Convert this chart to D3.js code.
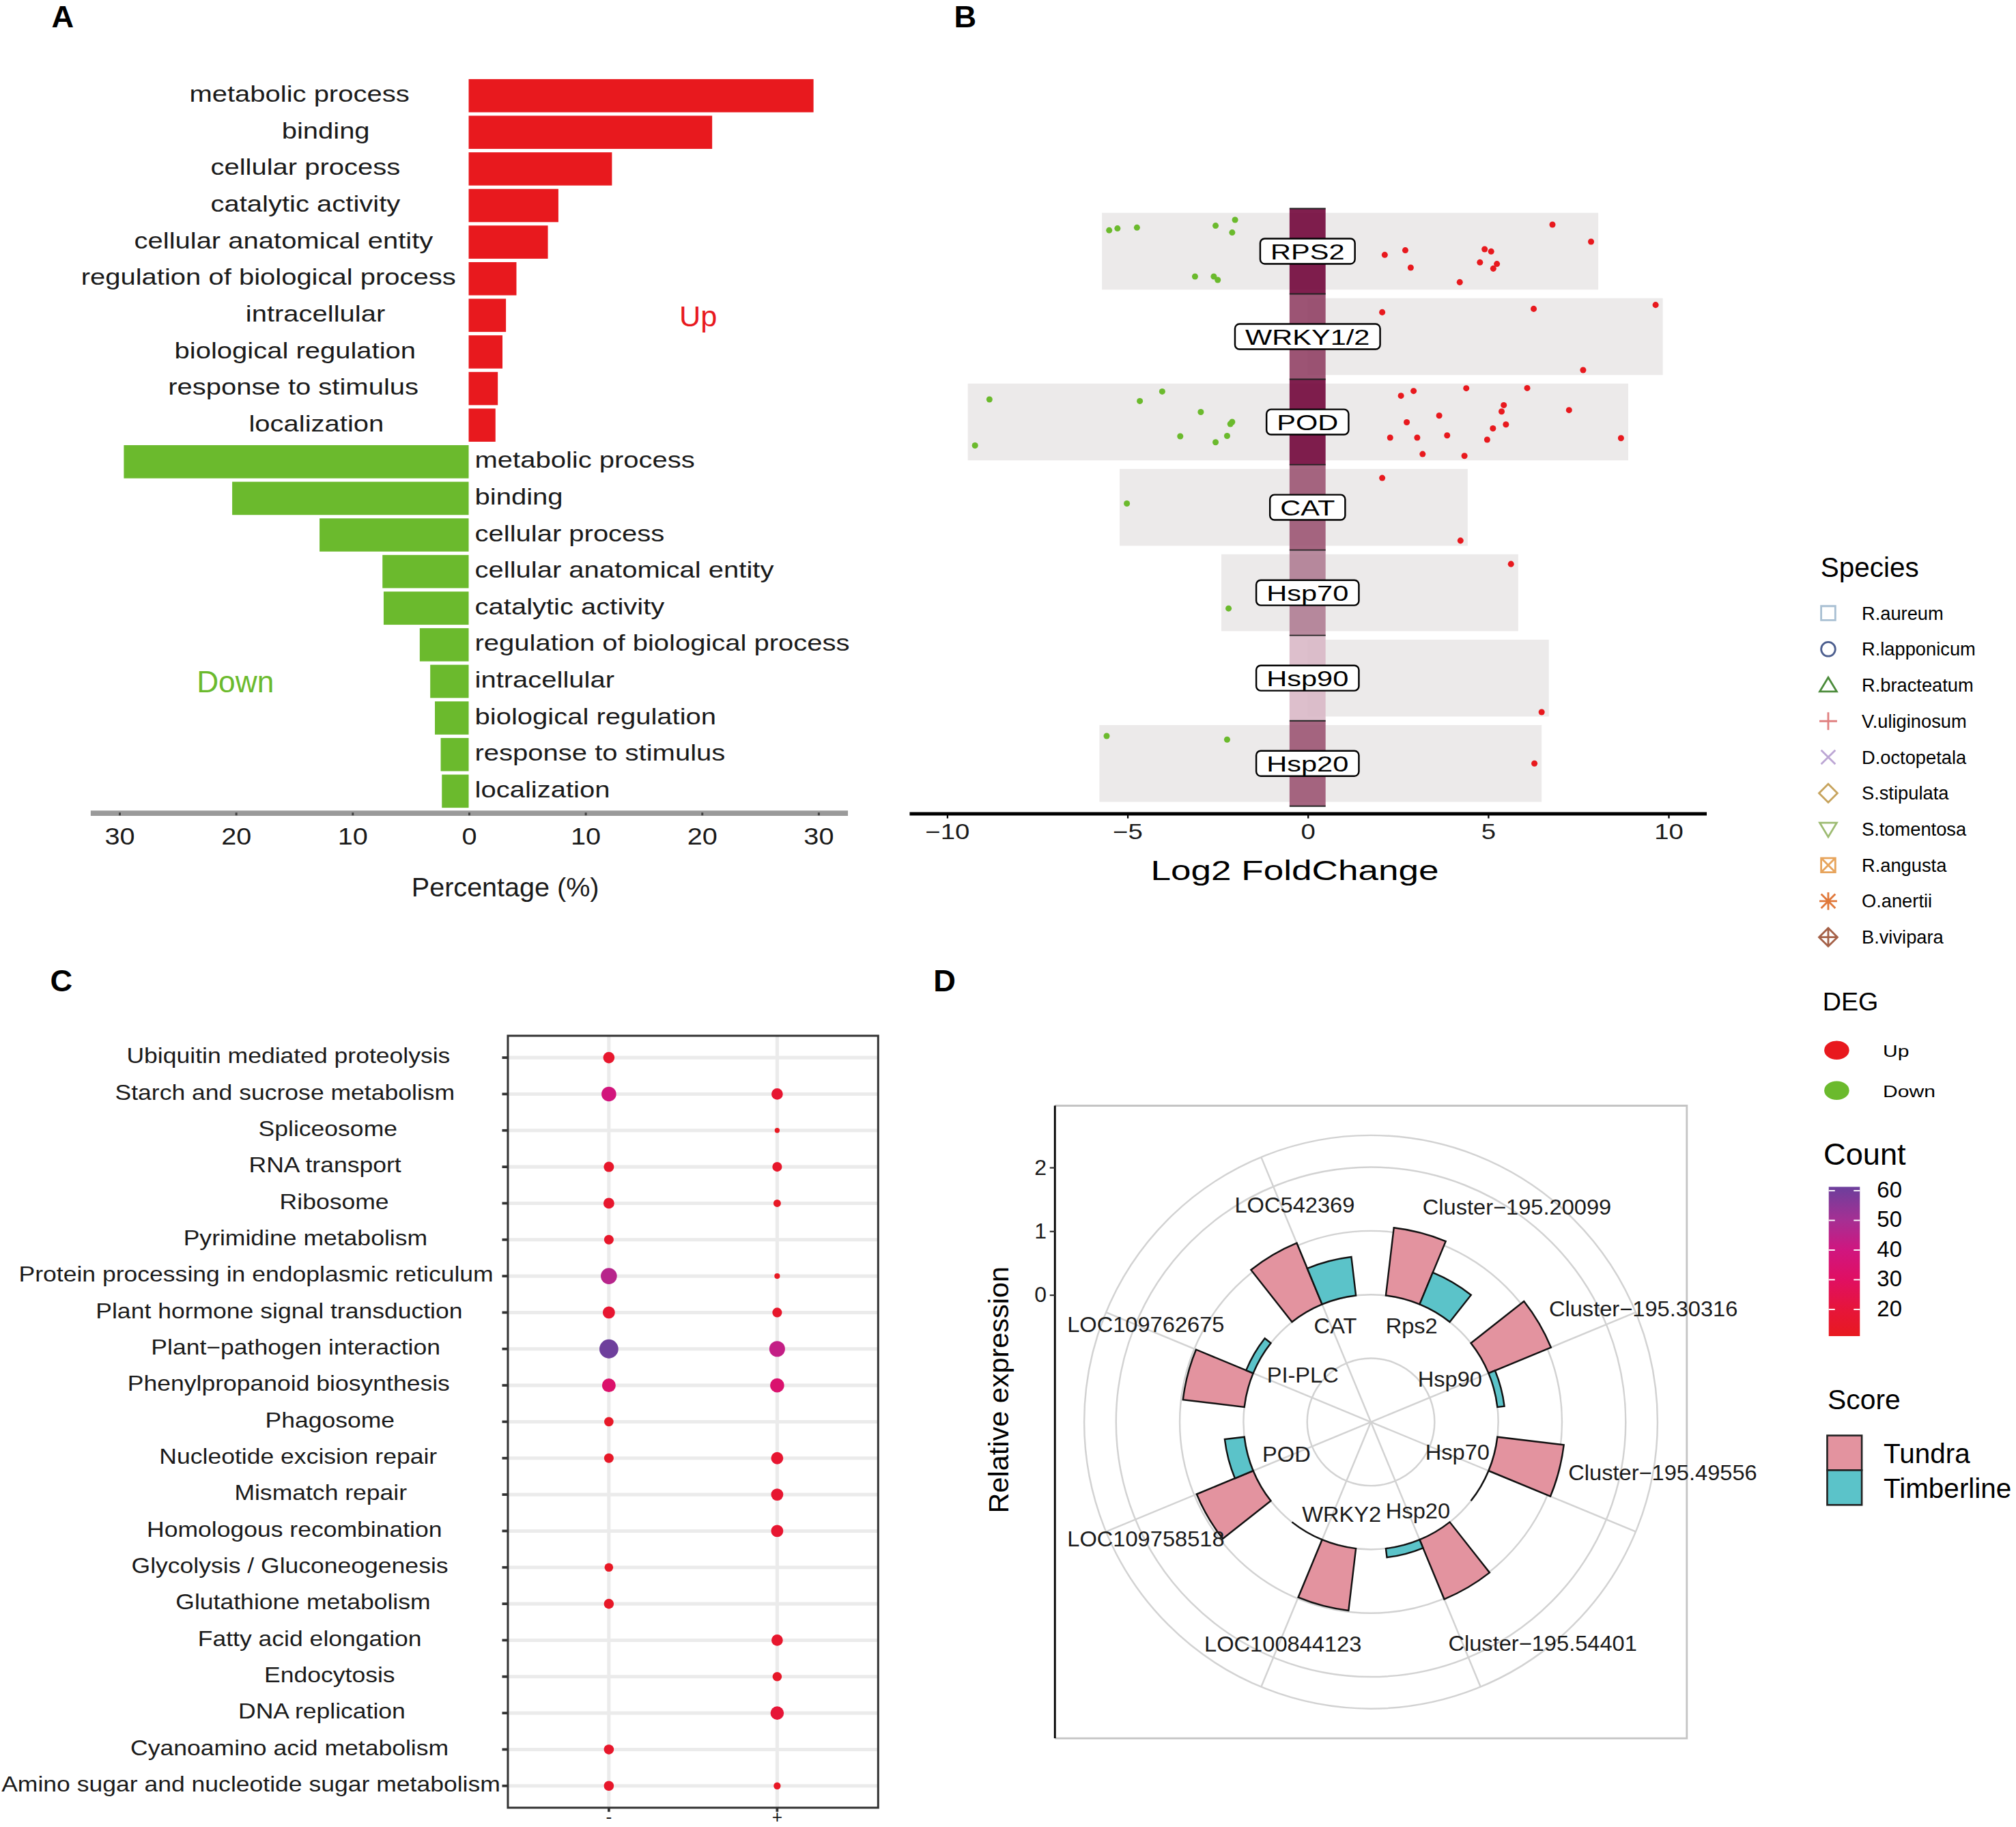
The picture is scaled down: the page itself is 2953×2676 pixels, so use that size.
<!DOCTYPE html>
<html>
<head>
<meta charset="utf-8">
<script src="https://cdn.jsdelivr.net/npm/d3@7"></script>
<style>
  body { margin: 0; background: #fff; }
  svg text { font-family: "Liberation Sans", Arial, Helvetica, sans-serif; }
</style>
</head>
<body>
<div id="fig"></div>
<script>
// ---------------- data ----------------
// A: GO enrichment, percentage of DEGs
const goUpTerms = ["metabolic process", "binding", "cellular process", "catalytic activity",
  "cellular anatomical entity", "regulation of biological process", "intracellular",
  "biological regulation", "response to stimulus", "localization"];
const goUpPct = [29.6, 20.9, 12.3, 7.7, 6.8, 4.1, 3.2, 2.9, 2.5, 2.3];
const goDownTerms = ["metabolic process", "binding", "cellular process", "cellular anatomical entity",
  "catalytic activity", "regulation of biological process", "intracellular",
  "biological regulation", "response to stimulus", "localization"];
const goDownPct = [29.6, 20.3, 12.8, 7.4, 7.3, 4.2, 3.3, 2.9, 2.4, 2.3];
const pctTicks = [-30, -20, -10, 0, 10, 20, 30];

// B: log2 fold change of DEGs per gene, [lfc, jitter within row]
const genesB = ["RPS2", "WRKY1/2", "POD", "CAT", "Hsp70", "Hsp90", "Hsp20"];
const degRPS2 = [[-5.50, -0.245], [-5.27, -0.267], [-4.73, -0.277], [-2.55, -0.299], [-2.01, -0.368],
  [-2.09, -0.219], [-3.12, 0.296], [-2.60, 0.296], [-2.49, 0.336],
  [6.79, -0.312], [7.86, -0.112], [2.14, 0.043], [2.71, -0.011], [4.91, -0.024], [5.09, 0.003],
  [4.78, 0.131], [5.25, 0.149], [5.15, 0.203], [2.86, 0.192], [4.22, 0.363]];
const degWRKY = [[2.07, -0.285], [6.27, -0.325], [9.65, -0.371], [7.64, 0.392]];
const degPOD = [[-8.82, -0.264], [-4.03, -0.357], [-4.65, -0.245], [-2.96, -0.117], [-2.09, 0.0],
  [-2.14, 0.024], [-3.53, 0.168], [-2.23, 0.163], [-2.55, 0.237], [-9.22, 0.275],
  [2.59, -0.307], [2.94, -0.363], [4.40, -0.395], [6.09, -0.397], [5.44, -0.197], [5.38, -0.123],
  [7.25, -0.139], [3.65, -0.075], [2.75, 0.003], [5.14, 0.075], [5.50, 0.029], [2.29, 0.184],
  [3.04, 0.184], [3.87, 0.157], [4.98, 0.208], [8.69, 0.189], [3.19, 0.376], [4.35, 0.397]];
const degCAT = [[-5.01, -0.045], [2.07, -0.344], [4.24, 0.39]];
const degHsp70 = [[5.64, -0.336], [-2.19, 0.184]];
const degHsp90 = [[6.49, 0.398]];
const degHsp20 = [[-5.57, -0.322], [-2.23, -0.28], [6.29, 0.0]];
const degByGene = [degRPS2, degWRKY, degPOD, degCAT, degHsp70, degHsp90, degHsp20];
const lfcTicks = [-10, -5, 0, 5, 10];

const speciesNames = ["R.aureum", "R.lapponicum", "R.bracteatum", "V.uliginosum", "D.octopetala",
  "S.stipulata", "S.tomentosa", "R.angusta", "O.anertii", "B.vivipara"];
const degLevels = ["Up", "Down"];

// C: KEGG pathways, count (colour) and DEG number (size) for - / +
const pathways = ["Ubiquitin mediated proteolysis", "Starch and sucrose metabolism", "Spliceosome",
  "RNA transport", "Ribosome", "Pyrimidine metabolism", "Protein processing in endoplasmic reticulum",
  "Plant hormone signal transduction", "Plant\u2212pathogen interaction", "Phenylpropanoid biosynthesis",
  "Phagosome", "Nucleotide excision repair", "Mismatch repair", "Homologous recombination",
  "Glycolysis / Gluconeogenesis", "Glutathione metabolism", "Fatty acid elongation", "Endocytosis",
  "DNA replication", "Cyanoamino acid metabolism", "Amino sugar and nucleotide sugar metabolism"];
const keggGroups = ["-", "+"];
const countMinus = [16, 39, null, 15, 16, 15, 46, 17, 61, 33, 14, 14, null, null, 13, 14, null, null, null, 15, 15];
const countPlus = [null, 17, 12, 15, 13, null, 12, 15, 43, 34, null, 17, 17, 17, null, null, 16, 14, 19, null, 13];
const genesMinus = [21, 35, null, 17, 19, 15, 42, 24, 58, 30, 14, 15, null, null, 12, 16, null, null, null, 16, 16];
const genesPlus = [null, 21, 4, 15, 9, null, 5, 15, 40, 32, null, 24, 24, 24, null, null, 21, 14, 29, null, 8];
const countTicks = [20, 30, 40, 50, 60];

// D: relative expression, polar bars
const genesD = ["Rps2", "Hsp90", "Hsp70", "Hsp20", "WRKY2", "POD", "PI-PLC", "CAT"];
const idsD = ["Cluster\u2212195.20099", "Cluster\u2212195.30316", "Cluster\u2212195.49556", "Cluster\u2212195.54401",
  "LOC100844123", "LOC109758518", "LOC109762675", "LOC542369"];
const tundraExpr = [1.07, 1.06, 1.05, 1.01, 0.98, 0.96, 0.97, 1.04];
const timberlineExpr = [0.54, 0.11, 0.0, 0.14, 0.0, 0.31, 0.12, 0.61];
const geneLabelNudge = [0.01, -0.13, -0.07, -0.12, -0.11, 0.03, 0.27, 0.05];
const geneLabelY = [-0.36, -0.59, -0.56, -0.42, -0.48, -0.58, -0.70, -0.39];
const idLabelNudge = [0.26, 0.0, -0.28, -0.34, -0.02, -0.11, 0.02, 0.07];
const idLabelY = [2.08, 2.63, 2.65, 2.40, 1.75, 1.98, 1.85, 1.61];
const scoreLevels = ["Tundra", "Timberline"];
const exprTicks = [0, 1, 2];

// ---------------- setup ----------------
const W = 1568, H = 1421;
const RED = "#E8191E", GREEN = "#6BBA2D", INK = "#1a1a1a";
const svg = d3.select("#fig").append("svg")
  .attr("width", 2953).attr("height", 2676)
  .attr("viewBox", `0 0 ${W} ${H}`);

// text with optional horizontal stretch; hjust 0 = left, 0.5 = centre, 1 = right
function label(g, str, x, y, o) {
  o = o || {};
  const sx = o.sx || 1, hj = o.hjust == null ? 0.5 : o.hjust;
  const t = g.append("text").text(str)
    .attr("font-size", o.size || 16)
    .attr("font-weight", o.weight || null)
    .attr("fill", o.fill || INK)
    .attr("dy", o.dy == null ? "0.35em" : o.dy);
  const w = t.node().getComputedTextLength() * sx;
  t.attr("transform", `translate(${x - hj * w},${y}) scale(${sx},1)`);
  return w;
}

// panel letters
[["A", 40, 21.5], ["B", 742, 21.5], ["C", 39, 771], ["D", 726, 771]].forEach(d =>
  label(svg, d[0], d[1], d[2], {size: 24, weight: "bold", hjust: 0, dy: 0, fill: "#000"}));

// ---------------- A ----------------
const gA = svg.append("g");
const xA = d3.scaleLinear().domain([-32.5, 32.5]).range([70, 659]);
const rowsA = goUpTerms.map((t, i) => "u" + i).concat(goDownTerms.map((t, i) => "d" + i));
const yA = d3.scaleBand().domain(rowsA).range([60.2, 629.6]).paddingInner(0.094).paddingOuter(0.047);

gA.selectAll("rect.up").data(goUpPct).join("rect")
  .attr("x", xA(0)).attr("y", (d, i) => yA("u" + i))
  .attr("width", d => xA(d) - xA(0)).attr("height", yA.bandwidth())
  .attr("fill", RED);
gA.selectAll("rect.down").data(goDownPct).join("rect")
  .attr("x", d => xA(-d)).attr("y", (d, i) => yA("d" + i))
  .attr("width", d => xA(0) - xA(-d)).attr("height", yA.bandwidth())
  .attr("fill", GREEN);

goUpTerms.forEach((t, i) => label(gA, t, 267, yA("u" + i) + yA.bandwidth() / 2 - 1.5, {size: 18, sx: 1.18, hjust: 0.70}));
goDownTerms.forEach((t, i) => label(gA, t, xA(0) + 4.8, yA("d" + i) + yA.bandwidth() / 2 - 1.5, {size: 18, sx: 1.18, hjust: 0}));

label(gA, "Up", 543, 246, {size: 23, fill: RED});
label(gA, "Down", 183, 530, {size: 23.5, fill: GREEN});

const axA = gA.append("g").attr("transform", "translate(0,632)")
  .call(d3.axisBottom(xA).tickValues(pctTicks).tickFormat(d => Math.abs(d)).tickSize(2.2).tickSizeOuter(0).tickPadding(9.5));
axA.select(".domain").attr("stroke", "#9a9a9a").attr("stroke-width", 4.2);
axA.selectAll(".tick line").attr("stroke", "#444").attr("stroke-width", 1.6);
axA.selectAll(".tick text").attr("font-size", 18.3).attr("fill", INK).attr("font-family", null)
  .attr("transform", "scale(1.15,1)");
label(gA, "Percentage (%)", 393, 690, {size: 21});

// ---------------- B ----------------
const gB = svg.append("g");
const xB = d3.scaleLinear().domain([-11.05, 11.05]).range([707, 1327]);
const yB = d3.scaleBand().domain(genesB).range([162.2, 627]);
const bwB = yB.bandwidth();
const nDeg = degByGene.map(a => a.length);
const heat = d3.scaleLinear().domain([1, 2, 3, 4, 8])
  .range(["#D9B8C6", "#B07D94", "#9C5573", "#914165", "#72073B"]).clamp(true);

// grey background band per gene, spanning its DEGs
genesB.forEach((g, i) => {
  const ext = d3.extent(degByGene[i], d => d[0]);
  const lo = ext[0] < 0 ? ext[0] - 0.2 : 0;
  const hi = ext[1] > 0 ? ext[1] + 0.2 : 0;
  gB.append("rect").attr("x", xB(lo)).attr("width", xB(hi) - xB(lo))
    .attr("y", yB(g) + bwB * 0.05).attr("height", bwB * 0.9).attr("fill", "#ECEAEA");
});
// central heat column
gB.selectAll("rect.heat").data(genesB).join("rect")
  .attr("x", xB(-0.5)).attr("width", xB(0.5) - xB(-0.5))
  .attr("y", d => yB(d)).attr("height", bwB)
  .attr("fill", (d, i) => heat(nDeg[i])).attr("fill-opacity", 0.9);
genesB.concat([null]).forEach((g, i) => {
  const y = g ? yB(g) : yB.range()[1];
  gB.append("line").attr("x1", xB(-0.5)).attr("x2", xB(0.5)).attr("y1", y).attr("y2", y)
    .attr("stroke", "#222").attr("stroke-width", 1);
});
// DEG points
genesB.forEach((g, i) => {
  gB.selectAll(null).data(degByGene[i]).join("circle")
    .attr("cx", d => xB(d[0])).attr("cy", d => yB(g) + bwB / 2 + d[1] * bwB)
    .attr("r", 2.4).attr("fill", d => d[0] > 0 ? RED : GREEN);
});
// gene labels
genesB.forEach(g => {
  const lg = gB.append("g");
  const cy = yB(g) + bwB / 2;
  const box = lg.append("rect");
  const w = label(lg, g, xB(0), cy + 0.5, {size: 16.6, sx: 1.33, fill: "#000"});
  box.attr("x", xB(0) - w / 2 - 8).attr("y", cy - 9.8).attr("width", w + 16).attr("height", 19.6)
    .attr("rx", 3.5).attr("fill", "#fff").attr("stroke", "#000").attr("stroke-width", 1.3);
});
const axB = gB.append("g").attr("transform", "translate(0,632.5)")
  .call(d3.axisBottom(xB).tickValues(lfcTicks).tickSize(4).tickSizeOuter(0).tickPadding(4.5));
axB.select(".domain").attr("stroke", "#000").attr("stroke-width", 2.6);
axB.selectAll(".tick line").attr("stroke", "#000").attr("stroke-width", 1.2);
axB.selectAll(".tick text").attr("font-size", 16.3).attr("fill", INK).attr("font-family", null)
  .attr("transform", "scale(1.25,1)");
label(gB, "Log2 FoldChange", 1007, 677, {size: 21.2, sx: 1.33, fill: "#000"});

// ---------------- legends ----------------
const gL = svg.append("g");
label(gL, "Species", 1416, 448.8, {size: 21.5, hjust: 0, dy: 0, fill: "#000"});
const speciesColors = ["#A9C0D3", "#4D5F8F", "#4B8B3B", "#E08080", "#BCA6D4",
  "#C7A45E", "#9DBB72", "#E7A45C", "#E0783A", "#A56148"];
const h = 5.5;
const sq = `M${-h},${-h}H${h}V${h}H${-h}Z`;
const cr = `M${-h},${-h}L${h},${h}M${-h},${h}L${h},${-h}`;
const pl = `M${-h * 1.25},0H${h * 1.25}M0,${-h * 1.25}V${h * 1.25}`;
const dm = `M0,${-h * 1.3}L${h * 1.3},0L0,${h * 1.3}L${-h * 1.3},0Z`;
const shapePaths = [sq, null,
  `M0,${-h * 1.1}L${h * 1.2},${h * 0.9}L${-h * 1.2},${h * 0.9}Z`, pl, cr, dm,
  `M0,${h * 1.1}L${h * 1.2},${-h * 0.9}L${-h * 1.2},${-h * 0.9}Z`, sq + cr, pl + cr,
  dm + `M${-h * 1.3},0H${h * 1.3}M0,${-h * 1.3}V${h * 1.3}`];
const ySp = d3.scalePoint().domain(speciesNames).range([476.9, 728.9]);
speciesNames.forEach((s, i) => {
  const y = ySp(s);
  const sg = gL.append("g").attr("transform", `translate(1422,${y})`);
  if (shapePaths[i]) sg.append("path").attr("d", shapePaths[i]);
  else sg.append("circle").attr("r", h);
  sg.selectAll("*").attr("fill", "none").attr("stroke", speciesColors[i]).attr("stroke-width", 1.5);
  label(gL, s, 1448, y, {size: 14.5, hjust: 0, fill: "#000"});
});

label(gL, "DEG", 1417.6, 786, {size: 20, hjust: 0, dy: 0, fill: "#000"});
const yDeg = d3.scalePoint().domain(degLevels).range([816.8, 848.2]);
degLevels.forEach((d, i) => {
  gL.append("ellipse").attr("cx", 1428.6).attr("cy", yDeg(d)).attr("rx", 9.7).attr("ry", 7.3)
    .attr("fill", i === 0 ? RED : GREEN);
  label(gL, d, 1464.5, yDeg(d) + 1, {size: 12.3, sx: 1.3, hjust: 0, fill: "#000"});
});

// count colour bar
const countColor = d3.scaleLinear().domain([11, 20, 30, 40, 50, 61.3])
  .range(["#E8191F", "#E6153A", "#E00F62", "#D0167F", "#A62F93", "#6C3F9C"]).clamp(true);
label(gL, "Count", 1418.3, 906, {size: 24, hjust: 0, dy: 0, fill: "#000"});
const cbY = d3.scaleLinear().domain([11, 61.3]).range([1039.2, 923.1]);
const grad = svg.append("defs").append("linearGradient").attr("id", "cgrad")
  .attr("x1", 0).attr("y1", 1).attr("x2", 0).attr("y2", 0);
countColor.domain().forEach(v => grad.append("stop")
  .attr("offset", (v - 11) / (61.3 - 11)).attr("stop-color", countColor(v)));
gL.append("rect").attr("x", 1422.4).attr("y", cbY(61.3)).attr("width", 24.2)
  .attr("height", cbY(11) - cbY(61.3)).attr("fill", "url(#cgrad)");
countTicks.forEach(v => {
  [[1422.4, 1427.2], [1441.8, 1446.6]].forEach(xx => gL.append("line")
    .attr("x1", xx[0]).attr("x2", xx[1]).attr("y1", cbY(v)).attr("y2", cbY(v))
    .attr("stroke", "#fff").attr("stroke-width", 1));
  label(gL, v, 1459.9, cbY(v) - 1, {size: 17.5, hjust: 0, fill: "#000"});
});

label(gL, "Score", 1421.5, 1096, {size: 21.7, hjust: 0, dy: 0, fill: "#000"});
const scoreColors = ["#E3939F", "#5BC3C9"];
scoreLevels.forEach((s, i) => {
  gL.append("rect").attr("x", 1421.2).attr("y", 1116.5 + i * 27).attr("width", 26.9).attr("height", 27)
    .attr("fill", scoreColors[i]).attr("stroke", "#222").attr("stroke-width", 1.4);
  label(gL, s, 1465, 1138 + i * 27, {size: 21.5, hjust: 0, dy: 0, fill: "#000"});
});

// ---------------- C ----------------
const gC = svg.append("g");
const boxC = {x0: 395, x1: 683, y0: 805.6, y1: 1406};
const xC = d3.scalePoint().domain(keggGroups).range([boxC.x0, boxC.x1]).padding(0.6);
const yC = d3.scalePoint().domain(pathways).range([boxC.y0, boxC.y1]).padding(0.6);
const rC = d3.scaleSqrt().domain([0, 60]).range([0, 7.5]);

pathways.forEach(p => gC.append("line").attr("x1", boxC.x0).attr("x2", boxC.x1)
  .attr("y1", yC(p)).attr("y2", yC(p)).attr("stroke", "#EBEBEB").attr("stroke-width", 2.7));
keggGroups.forEach(k => gC.append("line").attr("x1", xC(k)).attr("x2", xC(k))
  .attr("y1", boxC.y0).attr("y2", boxC.y1).attr("stroke", "#EBEBEB").attr("stroke-width", 2.7));

const dotsC = [];
pathways.forEach((p, i) => {
  if (countMinus[i] != null) dotsC.push({p, k: "-", c: countMinus[i], n: genesMinus[i]});
  if (countPlus[i] != null) dotsC.push({p, k: "+", c: countPlus[i], n: genesPlus[i]});
});
gC.selectAll("circle").data(dotsC).join("circle")
  .attr("cx", d => xC(d.k)).attr("cy", d => yC(d.p))
  .attr("r", d => rC(d.n)).attr("fill", d => countColor(d.c));

gC.append("rect").attr("x", boxC.x0).attr("y", boxC.y0)
  .attr("width", boxC.x1 - boxC.x0).attr("height", boxC.y1 - boxC.y0)
  .attr("fill", "none").attr("stroke", "#333").attr("stroke-width", 1.6);
pathways.forEach(p => {
  gC.append("line").attr("x1", boxC.x0 - 4.5).attr("x2", boxC.x0).attr("y1", yC(p)).attr("y2", yC(p))
    .attr("stroke", "#333").attr("stroke-width", 2);
  label(gC, p, 278.1, yC(p) - 1.5, {size: 16.7, sx: 1.13, hjust: 0.714});
});
keggGroups.forEach(k => {
  gC.append("line").attr("x1", xC(k)).attr("x2", xC(k)).attr("y1", boxC.y1).attr("y2", boxC.y1 + 3.2)
    .attr("stroke", "#333").attr("stroke-width", 2);
  label(gC, k, xC(k), 1417.6, {size: 14, dy: 0});
});

// ---------------- D ----------------
const boxD = {x0: 820.5, x1: 1312, y0: 860, y1: 1352};
const cxD = (boxD.x0 + boxD.x1) / 2, cyD = (boxD.y0 + boxD.y1) / 2;
const gDbg = svg.append("g");
gDbg.append("path")
  .attr("d", `M${boxD.x0},${boxD.y0}H${boxD.x1}V${boxD.y1}H${boxD.x0}`)
  .attr("fill", "none").attr("stroke", "#C4C4C4").attr("stroke-width", 1.5);
gDbg.append("line").attr("x1", boxD.x0).attr("x2", boxD.x0).attr("y1", boxD.y0).attr("y2", boxD.y1)
  .attr("stroke", "#000").attr("stroke-width", 1.5);

const thetaD = d3.scaleBand().domain(genesD).range([0, 2 * Math.PI]);
const bwD = thetaD.bandwidth();
const rD = d3.scaleLinear().domain([-2, 2]).range([0, 198.2]);
const outerR = rD.range()[1] * 0.45 / 0.4;
const gD = svg.append("g").attr("transform", `translate(${cxD},${cyD})`);
const gridCol = "#D2D2D2";
[-1, 0, 1, 2].forEach(v => gD.append("circle").attr("r", rD(v))
  .attr("fill", "none").attr("stroke", gridCol).attr("stroke-width", 1.3));
gD.append("circle").attr("r", outerR).attr("fill", "none").attr("stroke", gridCol).attr("stroke-width", 1.3);
const polar = (a, r) => [r * Math.sin(a), -r * Math.cos(a)];
// angular grid: the reference shows no spoke for the first category
genesD.slice(1).forEach(g => {
  const a = thetaD(g) + bwD / 2;
  const p = polar(a, outerR);
  gD.append("line").attr("x1", 0).attr("y1", 0).attr("x2", p[0]).attr("y2", p[1])
    .attr("stroke", gridCol).attr("stroke-width", 1.3);
});

const arc = d3.arc();
genesD.forEach((g, i) => {
  const c = thetaD(g) + bwD / 2;
  [[tundraExpr[i], c - 0.35 * bwD, c, scoreColors[0]],
   [timberlineExpr[i], c, c + 0.35 * bwD, scoreColors[1]]].forEach(b => {
    gD.append("path")
      .attr("d", arc({innerRadius: rD(0), outerRadius: rD(b[0]), startAngle: b[1], endAngle: b[2]}))
      .attr("fill", b[3]).attr("stroke", "#111").attr("stroke-width", 1.3)
      .attr("stroke-linejoin", "miter");
  });
});
genesD.forEach((g, i) => {
  const p = polar(thetaD(g) + (0.5 + geneLabelNudge[i]) * bwD, rD(geneLabelY[i]));
  label(gD, g, p[0], p[1], {size: 16.5, sx: 1.05});
  const q = polar(thetaD(g) + (0.5 + idLabelNudge[i]) * bwD, rD(idLabelY[i]));
  label(gD, idsD[i], q[0], q[1], {size: 16.5, sx: 1.05});
});

const yDax = d3.scaleLinear().domain(rD.domain()).range([cyD, cyD - rD.range()[1]]);
const axD = svg.append("g").attr("transform", `translate(${boxD.x0},0)`)
  .call(d3.axisLeft(yDax).tickValues(exprTicks).tickFormat(d3.format("d")).tickSize(4).tickPadding(2.5));
axD.select(".domain").remove();
axD.selectAll(".tick line").attr("stroke", "#333").attr("stroke-width", 1.2);
axD.selectAll(".tick text").attr("font-size", 17).attr("fill", INK).attr("font-family", null);
svg.append("text").text("Relative expression")
  .attr("transform", `translate(784,1081) rotate(-90)`)
  .attr("text-anchor", "middle").attr("font-size", 22).attr("fill", "#000");
</script>
</body>
</html>
